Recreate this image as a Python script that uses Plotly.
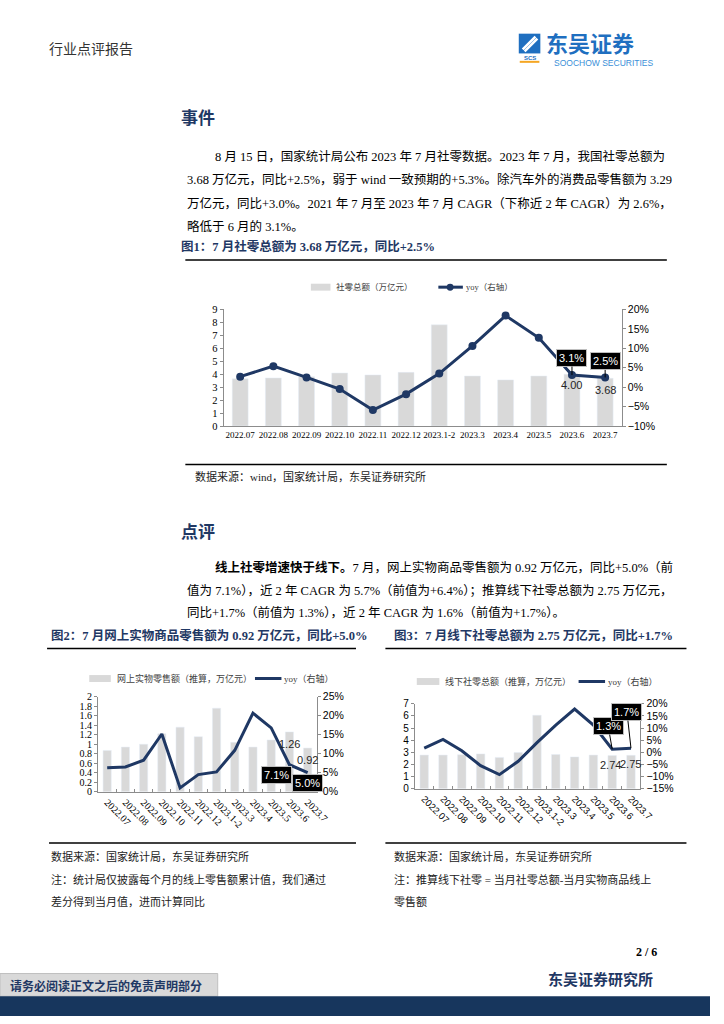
import plotly.graph_objects as go

# ---------------- data ----------------
months = ["2022.07", "2022.08", "2022.09", "2022.10", "2022.11", "2022.12",
          "2023.1-2", "2023.3", "2023.4", "2023.5", "2023.6", "2023.7"]
total_sales = [3.64, 3.71, 3.80, 4.09, 3.94, 4.14, 7.81, 3.86, 3.56, 3.86, 4.00, 3.68]
total_yoy = [2.7, 5.4, 2.5, -0.5, -5.9, -1.8, 3.5, 10.6, 18.4, 12.7, 3.1, 2.5]
online_sales = [0.87, 0.94, 1.00, 1.22, 1.36, 1.16, 1.76, 1.04, 0.94, 1.09, 1.26, 0.92]
online_yoy = [6.3, 6.5, 8.3, 15.2, 1.0, 4.5, 5.2, 10.9, 20.7, 16.8, 7.1, 5.0]
offline_sales = [2.77, 2.77, 2.80, 2.87, 2.58, 2.98, 6.05, 2.82, 2.62, 2.77, 2.74, 2.75]
offline_yoy = [1.7, 5.3, 0.6, -5.5, -9.2, -3.7, 4.0, 11.2, 17.8, 11.2, 1.3, 1.7]

W, H = 724, 1024
NAVY = "#1F3864"
BAR = "#D9D9D9"
SERIF = "Liberation Serif, Noto Sans CJK SC, serif"
SANS = "Liberation Sans, Arial, sans-serif"
CJK = "Liberation Serif, Noto Sans CJK SC"

def px(x):
    return x / W

def py(y):
    return 1 - y / H

fig = go.Figure()

# ---------------- traces ----------------
fig.add_trace(go.Bar(x=months, y=total_sales, marker_color=BAR, width=0.48,
                     xaxis="x", yaxis="y", showlegend=False))
fig.add_trace(go.Scatter(x=months, y=total_yoy, mode="lines+markers",
                         line=dict(color=NAVY, width=3),
                         marker=dict(color=NAVY, size=8),
                         xaxis="x", yaxis="y2", showlegend=False))
fig.add_trace(go.Bar(x=months, y=online_sales, marker_color=BAR, width=0.45,
                     xaxis="x2", yaxis="y3", showlegend=False))
fig.add_trace(go.Scatter(x=months, y=online_yoy, mode="lines",
                         line=dict(color=NAVY, width=3),
                         xaxis="x2", yaxis="y4", showlegend=False))
fig.add_trace(go.Bar(x=months, y=offline_sales, marker_color=BAR, width=0.45,
                     xaxis="x3", yaxis="y5", showlegend=False))
fig.add_trace(go.Scatter(x=months, y=offline_yoy, mode="lines",
                         line=dict(color=NAVY, width=3),
                         xaxis="x3", yaxis="y6", showlegend=False))

AX = dict(showline=True, linecolor="#8C8C8C", linewidth=1, showgrid=False,
          zeroline=False, ticks="outside", ticklen=3, tickcolor="#8C8C8C")
CAT = dict(type="category", categoryorder="array", categoryarray=months,
           range=[-0.5, len(months) - 0.5], showline=True, linecolor="#8C8C8C",
           showgrid=False, zeroline=False)

layout = dict(
    width=W, height=H, margin=dict(l=0, r=0, t=0, b=0),
    paper_bgcolor="white", plot_bgcolor="white", barmode="overlay",
    # chart 1
    xaxis=dict(CAT, domain=[px(228), px(634)], anchor="y", ticks="", tickangle=0,
               tickfont=dict(family=SERIF, size=9, color="#000")),
    yaxis=dict(AX, domain=[py(425), py(307)], anchor="x", range=[0, 9], dtick=1,
               tickfont=dict(family=SERIF, size=10.5, color="#000")),
    yaxis2=dict(AX, overlaying="y", side="right", anchor="x", range=[-10, 20], dtick=5,
                ticksuffix="%", tickfont=dict(family=SANS, size=10.5, color="#000")),
    # chart 2
    xaxis2=dict(CAT, domain=[px(100), px(323)], anchor="y3", ticks="inside", ticklen=3,
                tickcolor="#8C8C8C", tickson="boundaries", tickangle=45,
                tickfont=dict(family=SERIF, size=10, color="#000")),
    yaxis3=dict(AX, domain=[py(795), py(699)], anchor="x2", range=[0, 2], dtick=0.2,
                tickfont=dict(family=SERIF, size=10, color="#000")),
    yaxis4=dict(AX, overlaying="y3", side="right", anchor="x2", range=[0, 25], dtick=5,
                ticksuffix="%", tickfont=dict(family=SANS, size=10.5, color="#000")),
    # chart 3
    xaxis3=dict(CAT, domain=[px(423), px(653)], anchor="y5", ticks="inside", ticklen=3,
                tickcolor="#8C8C8C", tickson="boundaries", tickangle=45,
                tickfont=dict(family=SANS, size=9.5, color="#000")),
    yaxis5=dict(AX, domain=[py(792), py(706)], anchor="x3", range=[0, 7], dtick=1,
                tickfont=dict(family=SANS, size=10, color="#000")),
    yaxis6=dict(AX, overlaying="y5", side="right", anchor="x3", range=[-15, 20], dtick=5,
                ticksuffix="%", tickfont=dict(family=SANS, size=10.5, color="#000")),
)
fig.update_layout(**layout)

ann = []
shapes = []

def txt(x, y, text, size=12.5, color="#000", family=CJK, xanchor="left", pad=1):
    ann.append(dict(x=px(x), y=py(y), xref="paper", yref="paper", text=text,
                    showarrow=False, xanchor=xanchor, yanchor="middle", borderpad=pad,
                    font=dict(size=size, color=color, family=family)))

def hline(x0, x1, y, color="#000", width=1.5):
    shapes.append(dict(type="line", xref="paper", yref="paper", x0=px(x0), x1=px(x1),
                       y0=py(y), y1=py(y), line=dict(color=color, width=width)))

def rect(x0, y0, x1, y1, fill, line=None):
    shapes.append(dict(type="rect", xref="paper", yref="paper", x0=px(x0), x1=px(x1),
                       y0=py(y0), y1=py(y1), fillcolor=fill,
                       line=dict(width=0) if line is None else line, layer="above"))

# ---------------- header ----------------
txt(48, 44, "行业点评报告", size=14, color="#333")
rect(529, 28, 551, 48, "#1F6FC0")
shapes.append(dict(type="path", xref="paper", yref="paper",
                   path=f"M {px(533)},{py(44)} L {px(546)},{py(31)} M {px(535)},{py(46)} L {px(548)},{py(33)}",
                   line=dict(color="white", width=2.5)))
txt(540, 52.5, "<b>SCS</b>", size=6, color="#1F6FC0", family=SANS, xanchor="center", pad=0)
hline(530, 550, 56.5, color="#F5A623", width=2)
txt(556, 36, "<b>东吴证券</b>", size=22, color="#1F6FC0", family="Noto Sans CJK SC", pad=0)
txt(668, 57.5, "SOOCHOW SECURITIES", size=8.5, color="#3A8FD8", family=SANS, xanchor="right", pad=0)

# ---------------- section 1 ----------------
txt(183, 112, "<b>事件</b>", size=17, color=NAVY, family="Noto Sans CJK SC")
txt(217, 152, "8 月 15 日，国家统计局公布 2023 年 7 月社零数据。2023 年 7 月，我国社零总额为")
txt(189, 176, "3.68 万亿元，同比+2.5%，弱于 wind 一致预期的+5.3%。除汽车外的消费品零售额为 3.29")
txt(189, 200, "万亿元，同比+3.0%。2021 年 7 月至 2023 年 7 月 CAGR（下称近 2 年 CAGR）为 2.6%，")
txt(189, 223, "略低于 6 月的 3.1%。")
txt(183, 243, "<b>图1：7 月社零总额为 3.68 万亿元，同比+2.5%</b>", size=12.5, color=NAVY)
hline(189, 680, 257)
hline(189, 680, 464)
txt(197, 476, "数据来源：wind，国家统计局，东吴证券研究所", size=11, color="#222")

# chart 1 legend
rect(317, 281, 337, 288, BAR)
txt(341, 284.5, "社零总额（万亿元）", size=8.5, color="#404040")
hline(447, 472, 284.5, color=NAVY, width=3)
shapes.append(dict(type="circle", xref="paper", yref="paper", x0=px(455.5), x1=px(462.5),
                   y0=py(288), y1=py(281), fillcolor=NAVY, line=dict(width=0)))
txt(473, 284.5, "yoy（右轴）", size=8.5, color="#404040")

# ---------------- section 2 ----------------
txt(183, 531, "<b>点评</b>", size=17, color=NAVY, family="Noto Sans CJK SC")
txt(217, 568, "<b>线上社零增速快于线下。</b>7 月，网上实物商品零售额为 0.92 万亿元，同比+5.0%（前")
txt(189, 591, "值为 7.1%），近 2 年 CAGR 为 5.7%（前值为+6.4%）；推算线下社零总额为 2.75 万亿元，")
txt(189, 614, "同比+1.7%（前值为 1.3%），近 2 年 CAGR 为 1.6%（前值为+1.7%）。")

txt(50, 637, "<b>图2：7 月网上实物商品零售额为 0.92 万亿元，同比+5.0%</b>", size=12.5, color=NAVY)
txt(400, 637, "<b>图3：7 月线下社零总额为 2.75 万亿元，同比+1.7%</b>", size=12.5, color=NAVY)
hline(48, 363, 650)
hline(393, 700, 650)
hline(50, 363, 847)
hline(393, 700, 847)

# chart 2 legend
rect(91, 677, 113, 684, BAR)
txt(117, 680.5, "网上实物零售额（推算，万亿元）", size=9, color="#404040")
hline(260, 287, 680.5, color=NAVY, width=3)
txt(288, 680.5, "yoy（右轴）", size=9, color="#404040")

# chart 3 legend
rect(425, 680, 448, 687, BAR)
txt(452, 683.5, "线下社零总额（推算，万亿元）", size=9, color="#404040")
hline(590, 617, 683.5, color=NAVY, width=3)
txt(618, 683.5, "yoy（右轴）", size=9, color="#404040")

# notes
txt(50, 861, "数据来源：国家统计局，东吴证券研究所", size=11, color="#222")
txt(50, 884, "注：统计局仅披露每个月的线上零售额累计值，我们通过", size=11, color="#222")
txt(50, 906, "差分得到当月值，进而计算同比", size=11, color="#222")
txt(400, 861, "数据来源：国家统计局，东吴证券研究所", size=11, color="#222")
txt(400, 884, "注：推算线下社零 = 当月社零总额-当月实物商品线上", size=11, color="#222")
txt(400, 906, "零售额", size=11, color="#222")

# ---------------- footer ----------------
txt(672, 957, "<b>2 / 6</b>", size=12, color="#000", family=SERIF, xanchor="right")
txt(668, 984, "<b>东吴证券研究所</b>", size=15, color=NAVY, family="Noto Sans CJK SC", xanchor="right")
rect(0, 979, 222, 1002, "#D9D9D9", line=dict(color="#BFBFBF", width=1))
txt(8, 991, "<b>请务必阅读正文之后的免责声明部分</b>", size=12, color=NAVY, family="Noto Sans CJK SC")
rect(0, 1002, 724, 1022, "#17365D")

# ---------------- data labels (category index positions) ----------------
def box(xref, yref, i, y, text, ax, ay, arrow=True):
    ann.append(dict(x=i, y=y, xref=xref, yref=yref, text=text,
                    showarrow=arrow, arrowhead=0, arrowwidth=1, arrowcolor="#000",
                    ax=ax, ay=ay, xshift=0 if arrow else ax, yshift=0 if arrow else -ay,
                    bgcolor="#000", bordercolor="#BFBFBF", borderwidth=1, borderpad=2,
                    font=dict(family=SANS, size=11, color="white")))

def vlabel(xref, yref, i, y, text, yshift, xshift=0):
    ann.append(dict(x=i, y=y, xref=xref, yref=yref, text=text, showarrow=False,
                    yshift=yshift, xshift=xshift, yanchor="middle",
                    font=dict(family=SANS, size=11, color="#262626")))

i6, i7 = months.index("2023.6"), months.index("2023.7")
# chart 1
box("x", "y2", i6, total_yoy[i6], f"{total_yoy[i6]:.1f}%", 0, -17)
box("x", "y2", i7, total_yoy[i7], f"{total_yoy[i7]:.1f}%", 0, -16)
vlabel("x", "y", i6, total_sales[i6], f"{total_sales[i6]:.2f}", -11)
vlabel("x", "y", i7, total_sales[i7], f"{total_sales[i7]:.2f}", -12)
# chart 2
box("x2", "y4", i6, online_yoy[i6], f"{online_yoy[i6]:.1f}%", -13, 10, arrow=False)
box("x2", "y4", i7, online_yoy[i7], f"{online_yoy[i7]:.1f}%", 0, 10, arrow=False)
vlabel("x2", "y3", i6, online_sales[i6], f"{online_sales[i6]:.2f}", -12)
vlabel("x2", "y3", i7, online_sales[i7], f"{online_sales[i7]:.2f}", -12)
# chart 3
box("x3", "y6", i6, offline_yoy[i6], f"{offline_yoy[i6]:.1f}%", -4, -23)
box("x3", "y6", i7, offline_yoy[i7], f"{offline_yoy[i7]:.1f}%", -4, -36)
vlabel("x3", "y5", i6, offline_sales[i6], f"{offline_sales[i6]:.2f}", -10, -2)
vlabel("x3", "y5", i7, offline_sales[i7], f"{offline_sales[i7]:.2f}", -9)

fig.update_layout(annotations=ann, shapes=shapes)
fig.write_html("out.html", config={"displayModeBar": False},
               post_script="document.body.style.margin='0';document.body.style.overflow='hidden';")
